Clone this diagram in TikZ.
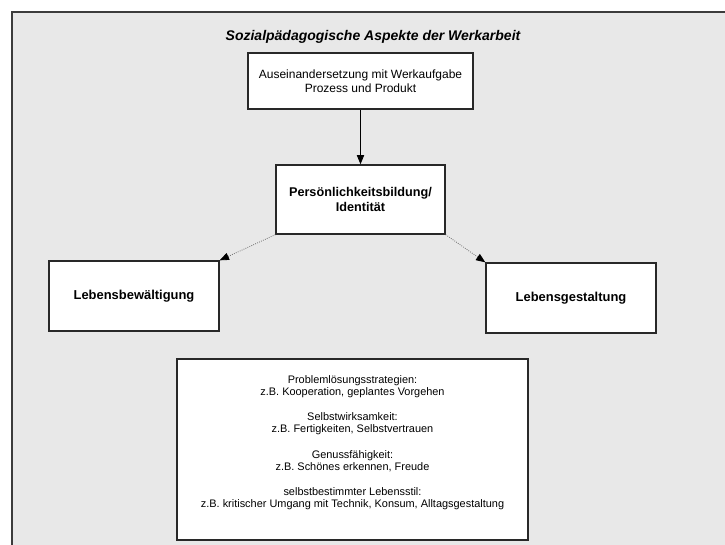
\documentclass[tikz,border=0pt]{standalone}
\usepackage{fontspec}
\setmainfont{Liberation Sans}
\usetikzlibrary{arrows.meta}

\tikzset{
  kasten/.style={draw={rgb, 255:red, 40; green, 40; blue, 40 }, line width=1pt, fill=white, align=center, inner sep=0pt},
  pfeil/.style={-{Triangle[length=7pt,width=5.5pt]}, line width=0.6pt},
  strichpfeil/.style={-{Triangle[length=7pt,width=5.5pt,color=black]}, color={rgb, 255:red, 110; green, 110; blue, 110 }, densely dotted, line width=0.6pt}
}

\begin{document}
\begin{tikzpicture}[x=0.75pt,y=0.75pt,yscale=-1,xscale=1]
        \useasboundingbox (0,0) rectangle (725,544);
        \clip (0,0) rectangle (725,544);
        %Shape: Rectangle [id:rahmen] 
        \draw [color={rgb, 255:red, 60; green, 60; blue, 60 }  ,line width=1.3pt, fill={rgb, 255:red, 232; green, 232; blue, 232 }]  (12,12) rectangle (760,580) ;
        % Text Node
        \draw (373,37) node [inner sep=0.75pt, font=\fontsize{10.5}{12}\selectfont\bfseries\itshape] (titel) {Sozialpädagogische Aspekte der Werkarbeit};
        % Text Node
        \draw (360.5,81) node [kasten, minimum width=168.75pt, minimum height=42pt, font=\fontsize{9}{10.5}\selectfont] (werk) {Auseinandersetzung mit Werkaufgabe\\Prozess und Produkt};
        % Text Node
        \draw (360.5,199.5) node [kasten, minimum width=126.75pt, minimum height=51.75pt, font=\fontsize{9.5}{11.5}\selectfont\bfseries] (ident) {Persönlichkeitsbildung/\\Identität};
        % Text Node
        \draw (134,296) node [kasten, minimum width=127.5pt, minimum height=52.5pt, font=\fontsize{9.7}{11}\selectfont\bfseries] (bewaelt) {Lebensbewältigung};
        % Text Node
        \draw (571,298) node [kasten, minimum width=127.5pt, minimum height=52.5pt, font=\fontsize{9.7}{11}\selectfont\bfseries] (gestalt) {Lebensgestaltung};
        % Text Node
        \draw (352.5,449.5) node [kasten, minimum width=263.25pt, minimum height=135.75pt, font=\fontsize{8.2}{9}\selectfont] (ziele) {
          Problemlösungsstrategien:\\ z.B. Kooperation, geplantes Vorgehen\\[10pt]
          Selbstwirksamkeit:\\ z.B. Fertigkeiten, Selbstvertrauen\\[10pt]
          Genussfähigkeit:\\ z.B. Schönes erkennen, Freude\\[10pt]
          selbstbestimmter Lebensstil:\\ z.B. kritischer Umgang mit Technik, Konsum, Alltagsgestaltung\\[3pt]\mbox{}};
        %Straight Lines [id:pfeil1] 
        \draw [pfeil]   (werk) -- (ident) ;
        %Straight Lines [id:pfeil2] 
        \draw [strichpfeil]   (ident.south west) -- (bewaelt.north east) ;
        %Straight Lines [id:pfeil3] 
        \draw [strichpfeil]   (ident.south east) -- (gestalt.north west) ;
    \end{tikzpicture}
\end{document}
